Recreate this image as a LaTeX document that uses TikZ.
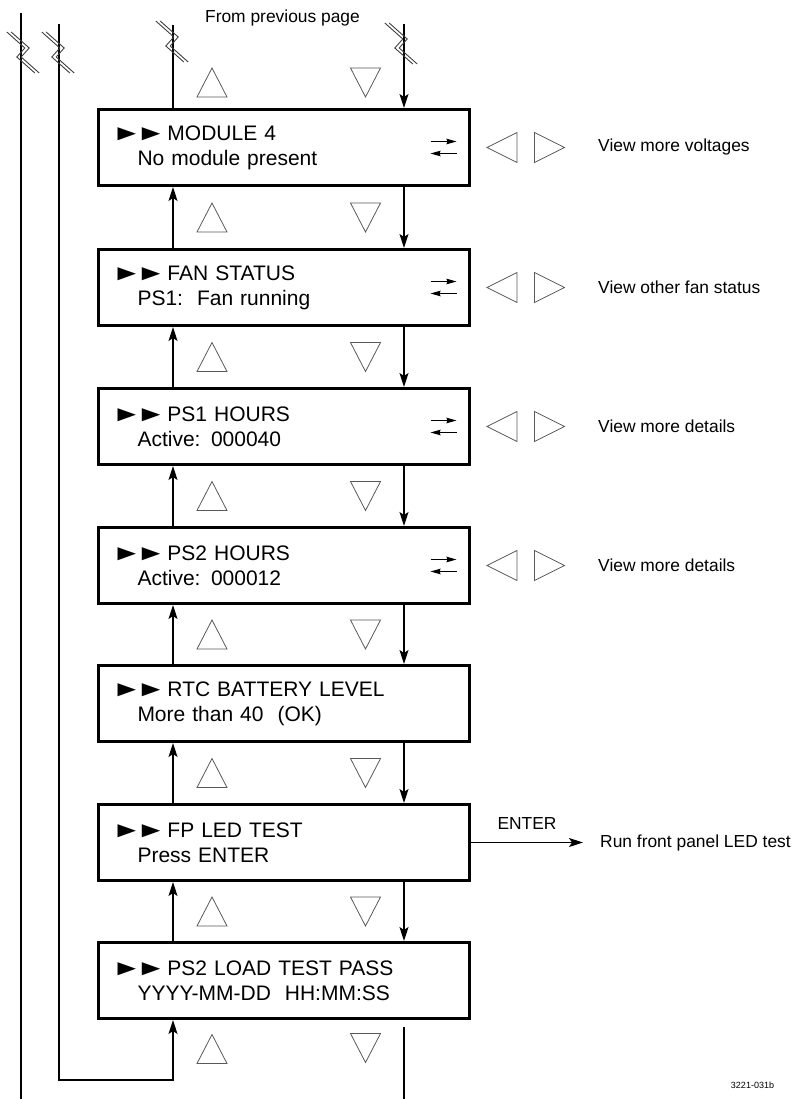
\documentclass[tikz,border=0pt]{standalone}
\usepackage{fontspec}
\setmainfont{Liberation Sans}
\usepackage{xcolor}
\usepackage{graphicx}
\usetikzlibrary{arrows.meta}

\definecolor{keygray}{gray}{0.35}
\newcommand{\tri}{\scalebox{1.4}[1]{\fontsize{22}{25}\selectfont ►}}
\newcommand{\tris}{\kern-5pt\tri\kern-6pt\tri\kern1pt}
\tikzset{
  panel/.style={draw,line width=3pt,minimum width=371pt,minimum height=76pt,
    text width=335pt,inner xsep=18pt,align=left,font=\fontsize{21}{25}\selectfont},
  note/.style={inner sep=0pt,font=\fontsize{17.4}{20}\selectfont},
  conn/.style={line width=1.3pt},
  keyline/.style={draw=keygray,line width=0.8pt},
  uptri/.pic={\draw[keyline] (-15,14.5) -- (0,-14.5) -- (15,14.5) -- cycle;},
  dntri/.pic={\draw[keyline] (-15,-14.5) -- (0,14.5) -- (15,-14.5) -- cycle;},
  lftri/.pic={\draw[keyline] (15,-15) -- (-15,0) -- (15,15) -- cycle;},
  rttri/.pic={\draw[keyline] (-15,-15) -- (15,0) -- (-15,15) -- cycle;},
  swaparr/.pic={\draw[conn,-{Stealth[length=10pt,width=5.5pt,inset=1pt]}] (-13,-6) -- (13,-6);
    \draw[conn,-{Stealth[length=10pt,width=5.5pt,inset=1pt]}] (13,6) -- (-13,6);},
  brk/.pic={\foreach \s in {-2.2,2.2} \draw[draw=black!75,line width=0.9pt,xshift=\s] (-14,-20) -- (4,-4) -- (-4,5) -- (14,21);}
}

\begin{document}
\begin{tikzpicture}[x=1pt,y=-1pt,>={Stealth[length=14pt,width=9pt,inset=3pt]}]
 \useasboundingbox (0,0) rectangle (796,1099);
 % lanes
 \coordinate (up) at (173,0);
 \coordinate (dn) at (404,0);
 \coordinate (l1) at (21,13);
 \coordinate (l2) at (59,24);
 \coordinate (t1) at (173,25);
 \coordinate (t2) at (404,24);
 \coordinate (b1) at (21,1099);
 \coordinate (b2) at (59,1080);
 \coordinate (b3) at (404,1099);
 \node[note,anchor=base] (prev) at (282.5,23) {From previous page};
 % panels
 \node[panel] (mod) at (284,147.5) {\tris MODULE 4\\\hspace*{21pt}No module present};
 \node[panel] (fan) at (284,287.5) {\tris FAN STATUS\\\hspace*{21pt}PS1:\ \ Fan running};
 \node[panel] (hr1) at (284,426.5) {\tris PS1 HOURS\\\hspace*{21pt}Active: 000040};
 \node[panel] (hr2) at (284,565.5) {\tris PS2 HOURS\\\hspace*{21pt}Active: 000012};
 \node[panel] (rtc) at (284,703.5) {\tris RTC BATTERY LEVEL\\\hspace*{21pt}More than 40\ \ (OK)};
 \node[panel] (led) at (284,842.5) {\tris FP LED TEST\\\hspace*{21pt}Press ENTER};
 \node[panel] (pass) at (284,980.5) {\tris PS2 LOAD TEST PASS\\\hspace*{21pt}YYYY-MM-DD\ \ HH:MM:SS};
 % side notes
 \node[note,anchor=west] (volt) at (598,147.5) {View more voltages};
 \node[note,anchor=west] (fans) at (598,287.5) {View other fan status};
 \node[note,anchor=west] (det1) at (598,426.5) {View more details};
 \node[note,anchor=west] (det2) at (598,565.5) {View more details};
 \node[note,anchor=west] (run) at (600,842.5) {Run front panel LED test};
 \node[font=\fontsize{9}{10}\selectfont,inner sep=0pt,anchor=base] (fig) at (752.5,1088) {3221-031b};
 % up / down flow
 \draw[conn] (mod.north -| up) -- (t1);
 \draw[conn,->] (t2) -- (mod.north -| dn);
 \draw[conn,->] (fan.north -| up) -- (mod.south -| up);
 \draw[conn,->] (mod.south -| dn) -- (fan.north -| dn);
 \draw[conn,->] (hr1.north -| up) -- (fan.south -| up);
 \draw[conn,->] (fan.south -| dn) -- (hr1.north -| dn);
 \draw[conn,->] (hr2.north -| up) -- (hr1.south -| up);
 \draw[conn,->] (hr1.south -| dn) -- (hr2.north -| dn);
 \draw[conn,->] (rtc.north -| up) -- (hr2.south -| up);
 \draw[conn,->] (hr2.south -| dn) -- (rtc.north -| dn);
 \draw[conn,->] (led.north -| up) -- (rtc.south -| up);
 \draw[conn,->] (rtc.south -| dn) -- (led.north -| dn);
 \draw[conn,->] (pass.north -| up) -- (led.south -| up);
 \draw[conn,->] (led.south -| dn) -- (pass.north -| dn);
 \draw[conn,->] (l2) -- (b2) -- (b2 -| up) -- (pass.south -| up);
 \draw[conn] (l1) -- (b1);
 \draw[conn] (pass.south -| dn) ++(0,7) -- (b3);
 \draw[conn,->] (led.east) -- ([xshift=-17pt]run.west) node[note,midway,above=12pt] (enter) {ENTER};
 % breaks
 \pic at (23,52) {brk};
 \pic at (58,52) {brk};
 \pic at (172,41) {brk};
 \pic at (401,43) {brk};
 % keys
 \pic at (212,82.5) {uptri};   \pic at (365.5,82.5) {dntri};
 \pic at (212,217.5) {uptri};  \pic at (365.5,217.5) {dntri};
 \pic at (212,357) {uptri};    \pic at (365.5,357) {dntri};
 \pic at (212,496) {uptri};    \pic at (365.5,496) {dntri};
 \pic at (212,634.5) {uptri};  \pic at (365.5,634.5) {dntri};
 \pic at (212,773) {uptri};    \pic at (365.5,773) {dntri};
 \pic at (212,911.5) {uptri};  \pic at (365.5,911.5) {dntri};
 \pic at (212,1049) {uptri};   \pic at (365.5,1048) {dntri};
 \pic at (443.5,147.5) {swaparr}; \pic at (502,147.5) {lftri}; \pic at (549.5,147.5) {rttri};
 \pic at (443.5,287.5) {swaparr}; \pic at (502,287.5) {lftri}; \pic at (549.5,287.5) {rttri};
 \pic at (443.5,426.5) {swaparr}; \pic at (502,426.5) {lftri}; \pic at (549.5,426.5) {rttri};
 \pic at (443.5,565.5) {swaparr}; \pic at (502,565.5) {lftri}; \pic at (549.5,565.5) {rttri};
\end{tikzpicture}
\end{document}
